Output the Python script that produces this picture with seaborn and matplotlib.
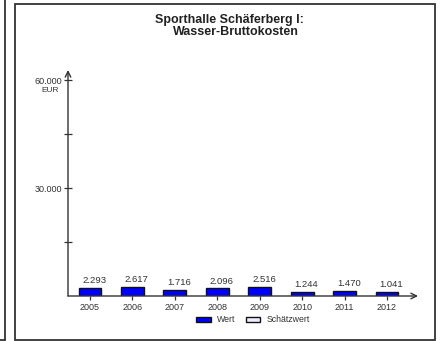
import matplotlib
matplotlib.use("Agg")
import matplotlib.pyplot as plt
from matplotlib.patches import Rectangle, Patch
from matplotlib.lines import Line2D
import seaborn as sns
import pandas as pd

years = ["2005", "2006", "2007", "2008", "2009", "2010", "2011", "2012"]
values = [2293, 2617, 1716, 2096, 2516, 1244, 1470, 1041]
value_labels = ["2.293", "2.617", "1.716", "2.096", "2.516", "1.244", "1.470", "1.041"]
ytick_vals = [15000, 30000, 45000, 60000]
ytick_labels = ["", "30.000", "", "60.000"]
title_lines = ["Sporthalle Schäferberg I:", "Wasser-Bruttokosten"]
unit = "EUR"
legend_labels = ["Wert", "Schätzwert"]

sns.set_style("white")
plt.rcParams["font.family"] = ["Liberation Sans", "DejaVu Sans"]

W, H = 442, 341
fig = plt.figure(figsize=(W / 100, H / 100), dpi=100)

def fx(px):
    return px / W

def fy(py):
    return (H - py) / H

# frame
fig.add_artist(Rectangle((fx(15), fy(340)), fx(435) - fx(15), fy(4) - fy(340),
                         transform=fig.transFigure, fill=False, edgecolor="#333333", lw=1.3))
fig.add_artist(Line2D([fx(4.5), fx(4.5)], [fy(0), fy(340)], transform=fig.transFigure,
                      color="#333333", lw=1.3))
fig.add_artist(Line2D([fx(0), fx(4.5)], [fy(340), fy(340)], transform=fig.transFigure,
                      color="#333333", lw=1.3))

ax = fig.add_axes([fx(68), fy(296), fx(418) - fx(68), fy(70) - fy(296)])
df = pd.DataFrame({"Jahr": years, "Wert": values})
sns.barplot(data=df, x="Jahr", y="Wert", ax=ax, color="#0000ff", saturation=1,
            edgecolor="#111111", linewidth=1.0, width=0.54)
ax.set_xlim(-0.518, 7.73)
ax.set_ylim(0, 62900)
for s in ax.spines.values():
    s.set_visible(False)
ax.set_xlabel("")
ax.set_ylabel("")

# axis arrows
ax.annotate("", xy=(0, 1), xytext=(0, 0), xycoords="axes fraction",
            arrowprops=dict(arrowstyle="->", color="#333333", lw=1.0, shrinkA=0, shrinkB=0))
ax.annotate("", xy=(1, 0), xytext=(0, 0), xycoords="axes fraction",
            arrowprops=dict(arrowstyle="->", color="#333333", lw=1.0, shrinkA=0, shrinkB=0))

ax.set_yticks(ytick_vals)
ax.set_yticklabels(ytick_labels)
ax.tick_params(axis="y", direction="inout", length=6, width=0.9, color="#333333",
               labelsize=6.5, labelcolor="#333333", pad=1, left=True)
ax.tick_params(axis="x", direction="out", length=3, width=0.9, color="#333333",
               labelsize=6.5, labelcolor="#333333", pad=2, bottom=True)
fig.text(fx(50), fy(90), unit, ha="center", va="center", fontsize=6, color="#333333")

for i, (v, lab) in enumerate(zip(values, value_labels)):
    ax.annotate(lab, (i, v), xytext=(3, 2), textcoords="offset points",
                ha="center", va="bottom", fontsize=6.8, color="#333333")

fig.text(fx(229), fy(19.5), title_lines[0], ha="center", va="center", fontsize=9,
         fontweight="bold", color="#222222")
fig.text(fx(236), fy(32), title_lines[1], ha="center", va="center", fontsize=9,
         fontweight="bold", color="#222222")

handles = [Patch(facecolor="#0000ff", edgecolor="#111111", lw=1.0),
           Patch(facecolor="#eeeeff", edgecolor="#111111", lw=1.0)]
fig.legend(handles, legend_labels, loc="center", bbox_to_anchor=(fx(253), fy(320)),
           ncol=2, frameon=False, fontsize=6.3, handlelength=1.7, handleheight=0.5,
           handletextpad=0.7, columnspacing=1.15, labelcolor="#333333")

fig.savefig("out.png", dpi=100)
